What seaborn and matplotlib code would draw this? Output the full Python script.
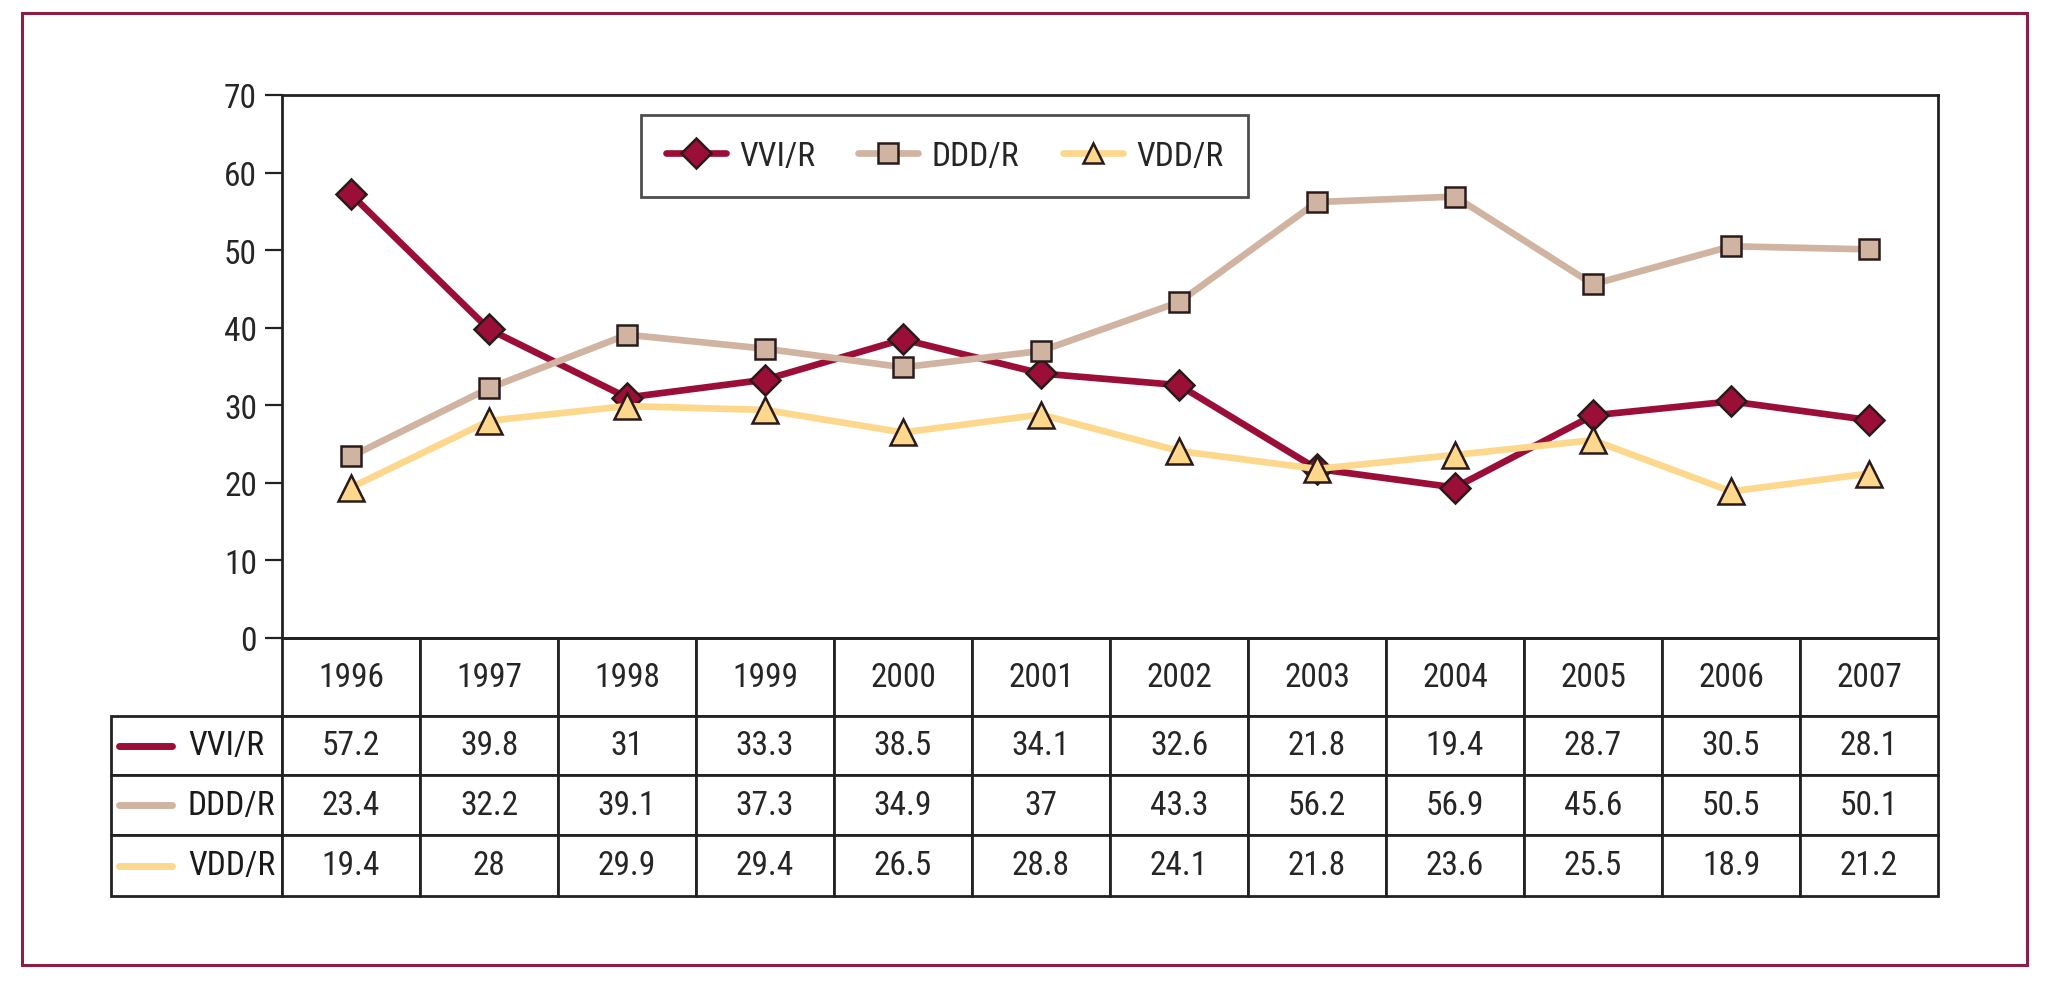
import matplotlib
matplotlib.use("Agg")
import matplotlib.pyplot as plt
import pandas as pd
import seaborn as sns
from matplotlib.table import Table
from matplotlib.patches import Rectangle
from matplotlib.lines import Line2D

# Data
years = ["1996", "1997", "1998", "1999", "2000", "2001",
         "2002", "2003", "2004", "2005", "2006", "2007"]
series_names = ["VVI/R", "DDD/R", "VDD/R"]
vvi = [57.2, 39.8, 31, 33.3, 38.5, 34.1, 32.6, 21.8, 19.4, 28.7, 30.5, 28.1]
ddd = [23.4, 32.2, 39.1, 37.3, 34.9, 37, 43.3, 56.2, 56.9, 45.6, 50.5, 50.1]
vdd = [19.4, 28, 29.9, 29.4, 26.5, 28.8, 24.1, 21.8, 23.6, 25.5, 18.9, 21.2]
y_ticks = [0, 10, 20, 30, 40, 50, 60, 70]

colors = {"VVI/R": "#9b0e38", "DDD/R": "#d0b3a1", "VDD/R": "#fdd88c"}
markers = {"VVI/R": "D", "DDD/R": "s", "VDD/R": "^"}

sns.set_style("ticks")
plt.rcParams["font.family"] = ["Roboto Condensed", "DejaVu Sans"]
FS = 24
EDGE = "#222222"
MEC = "#2b1a1a"

W, H = 2054, 987
fig = plt.figure(figsize=(W / 100, H / 100), dpi=100)

# layout in pixels
ax_l, ax_r, ax_t, ax_b = 282, 1938, 96, 639
ax = fig.add_axes([ax_l / W, 1 - ax_b / H, (ax_r - ax_l) / W, (ax_b - ax_t) / H])
aw, ah = ax_r - ax_l, ax_b - ax_t

df = pd.DataFrame({
    "year": years * 3,
    "value": vvi + ddd + vdd,
    "series": [s for s in series_names for _ in years],
})

sns.lineplot(data=df, x="year", y="value", hue="series", style="series",
             hue_order=series_names, style_order=series_names,
             palette=colors, markers=markers, dashes=False, sort=False,
             linewidth=4.8, markersize=15, markeredgecolor=MEC,
             markeredgewidth=1.8, ax=ax)
for ln in ax.lines:
    if ln.get_marker() == "^":
        ln.set_markersize(19)

ax.set_xlim(-0.5, len(years) - 0.5)
ax.set_ylim(0, 70)
ax.set_yticks(y_ticks)
ax.set_xticks([])
ax.set_xlabel("")
ax.set_ylabel("")
ax.tick_params(axis="y", labelsize=FS, length=12, width=1.6, color=EDGE, pad=6)
for sp in ax.spines.values():
    sp.set_visible(True)
    sp.set_linewidth(2)
    sp.set_color(EDGE)

sns.move_legend(ax, "center", bbox_to_anchor=(0.40, 0.888), ncol=3, title=None,
                frameon=True, fancybox=False, fontsize=FS, handlelength=1.8,
                handletextpad=0.4, columnspacing=1.3, borderpad=0.75)
leg = ax.get_legend()
leg.get_frame().set_edgecolor(EDGE)
leg.get_frame().set_linewidth(2)
for h in leg.legend_handles:
    h.set_markeredgecolor(MEC)
    h.set_markeredgewidth(1.8)
    h.set_linewidth(4.8)

# data table under the chart
tb_l, tb_b = 111, 897
label_w, col_w = 171, 138
row_h = [78, 59, 60, 61]
tbl = Table(ax, bbox=[(tb_l - ax_l) / aw, -(tb_b - ax_b) / ah,
                      (ax_r - tb_l) / aw, (tb_b - ax_b) / ah])
for j, yr in enumerate(years):
    tbl.add_cell(0, j + 1, col_w, row_h[0], text=yr, loc="center")
rows = [vvi, ddd, vdd]
for i, vals in enumerate(rows):
    tbl.add_cell(i + 1, 0, label_w, row_h[i + 1], text="", loc="left")
    for j, v in enumerate(vals):
        tbl.add_cell(i + 1, j + 1, col_w, row_h[i + 1], text=f"{v:g}", loc="center")
tbl.auto_set_font_size(False)
tbl.set_fontsize(FS)
for cell in tbl.get_celld().values():
    cell.set_linewidth(2)
    cell.set_edgecolor(EDGE)
ax.add_table(tbl)

# row labels with colour swatches
y_top = ax_b + row_h[0]
for i, name in enumerate(series_names):
    yc = y_top + row_h[i + 1] / 2
    y_ax = -(yc - ax_b) / ah
    ax.add_line(Line2D([(119 - ax_l) / aw, (172 - ax_l) / aw], [y_ax, y_ax],
                       transform=ax.transAxes, color=colors[name], linewidth=5,
                       clip_on=False))
    ax.text((188 - ax_l) / aw, y_ax, name, transform=ax.transAxes,
            fontsize=FS, ha="left", va="center", color="#1a1a1a")
    y_top += row_h[i + 1]

# outer frame
fig.add_artist(Rectangle((22 / W, 1 - 966 / H), (2027 - 22) / W, (966 - 14) / H,
                         transform=fig.transFigure, fill=False,
                         edgecolor="#8c1d45", linewidth=2.2))

fig.savefig("out.png", dpi=100)
